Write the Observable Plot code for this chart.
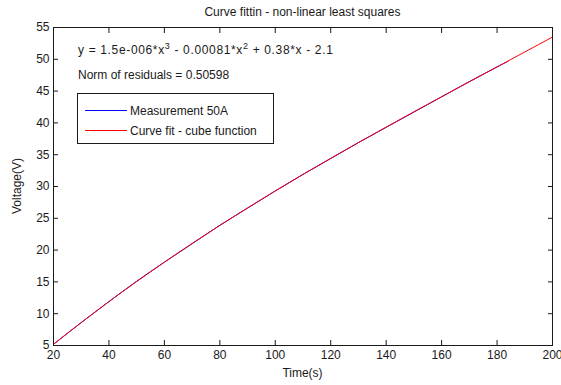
<!DOCTYPE html>
<html>
<head>
<meta charset="utf-8">
<script src="https://cdn.jsdelivr.net/npm/d3@7"></script>
<script src="https://cdn.jsdelivr.net/npm/@observablehq/plot@0.6"></script>
<style>
  html, body { margin: 0; padding: 0; background: #fff; }
  #chart { width: 561px; height: 385px; }
</style>
</head>
<body>
<div id="chart"></div>
<script>
// ---- data ----
const xTicks = [20, 40, 60, 80, 100, 120, 140, 160, 180, 200];
const yTicks = [5, 10, 15, 20, 25, 30, 35, 40, 45, 50, 55];

const measTime = [20, 30, 40, 50, 60, 70, 80, 90, 100, 110, 120, 130, 140, 150, 160, 170, 180, 184];
const measVolt = [5.2, 8.6, 11.9, 15.1, 18.1, 21.0, 23.9, 26.6, 29.3, 31.9, 34.4, 36.9, 39.3, 41.7, 44.1, 46.5, 48.8, 49.7];

const fitTime = [20, 30, 40, 50, 60, 70, 80, 90, 100, 110, 120, 130, 140, 150, 160, 170, 180, 190, 200];
const fitVolt = [5.19, 8.61, 11.90, 15.06, 18.11, 21.05, 23.88, 26.63, 29.30, 31.90, 34.43, 36.91, 39.34, 41.74, 44.11, 46.46, 48.80, 51.15, 53.50];

const titleText = "Curve fittin - non-linear least squares";
const xLabel = "Time(s)";
const yLabel = "Voltage(V)";
// equation: [text, isSuperscript]
const equationParts = [["y = 1.5e-006*x", false], ["3", true], [" - 0.00081*x", false], ["2", true], [" + 0.38*x - 2.1", false]];
const normText = "Norm of residuals = 0.50598";
const seriesNames = ["Measurement 50A", "Curve fit - cube function"];
const seriesColors = ["#0000ff", "#ff0000"];

// ---- tables ----
const meas = measTime.map((t, i) => ({t, v: measVolt[i]}));
const fit = fitTime.map((t, i) => ({t, v: fitVolt[i]}));

const W = 561, H = 385;
const mL = 53, mR = 9, mT = 27, mB = 40;
const FONT = "'Liberation Sans', Arial, Helvetica, sans-serif";
const INK = "#1a1a1a";

const plot = Plot.plot({
  width: W,
  height: H,
  marginLeft: mL,
  marginRight: mR,
  marginTop: mT,
  marginBottom: mB,
  style: {fontFamily: FONT, fontSize: "12px", color: INK, background: "#fff", overflow: "visible"},
  x: {domain: [20, 200]},
  y: {domain: [5, 55]},
  marks: [
    Plot.line(meas, {x: "t", y: "v", stroke: seriesColors[0], strokeWidth: 1, curve: "monotone-x"}),
    Plot.line(fit, {x: "t", y: "v", stroke: seriesColors[1], strokeWidth: 1, curve: "monotone-x"}),
    Plot.axisX({anchor: "bottom", ticks: xTicks, tickSize: -5, tickPadding: 10, label: null, stroke: INK, fill: INK}),
    Plot.axisX({anchor: "top", ticks: xTicks, tickSize: -5, tickFormat: () => "", label: null, stroke: INK}),
    Plot.axisY({anchor: "left", ticks: yTicks, tickSize: -5, tickPadding: 9, label: null, stroke: INK, fill: INK}),
    Plot.axisY({anchor: "right", ticks: yTicks, tickSize: -5, tickFormat: () => "", label: null, stroke: INK}),
    Plot.frame({stroke: INK, strokeWidth: 1})
  ]
});

document.getElementById("chart").appendChild(plot);

// ---- annotations, labels, legend ----
const svg = d3.select(plot);
const txt = (x, y, s, anchor = "start") => svg.append("text")
  .attr("x", x).attr("y", y)
  .attr("fill", INK)
  .attr("font-family", FONT)
  .attr("font-size", 12)
  .attr("text-anchor", anchor)
  .text(s);

const cx = mL + (W - mL - mR) / 2;
txt(cx, 16, titleText, "middle");
txt(cx, 377, xLabel, "middle");
svg.append("text")
  .attr("transform", `translate(21, ${mT + (H - mT - mB) / 2}) rotate(-90)`)
  .attr("fill", INK).attr("font-family", FONT).attr("font-size", 12)
  .attr("text-anchor", "middle").text(yLabel);

// equation with superscripts
const eq = txt(78, 54, "").attr("letter-spacing", 0.65);
equationParts.forEach(([s, sup]) => {
  const ts = eq.append("tspan").text(s);
  if (sup) ts.attr("font-size", 9).attr("dy", -5);
  else if (eq.selectAll("tspan").size() > 1) ts.attr("dy", 5);
});
txt(78, 79, normText);

// legend box
const lg = svg.append("g");
lg.append("rect").attr("x", 77.5).attr("y", 93.5).attr("width", 196).attr("height", 50)
  .attr("fill", "#fff").attr("stroke", INK).attr("stroke-width", 1);
seriesNames.forEach((name, i) => {
  const y = 110 + i * 20;
  lg.append("line").attr("x1", 85).attr("x2", 127).attr("y1", y + 0.5).attr("y2", y + 0.5)
    .attr("stroke", seriesColors[i]).attr("stroke-width", 1);
  lg.append("text").attr("x", 130).attr("y", y + 4.5).attr("text-anchor", "start")
    .attr("fill", INK).attr("font-family", FONT).attr("font-size", 12).text(name);
});
</script>
</body>
</html>
